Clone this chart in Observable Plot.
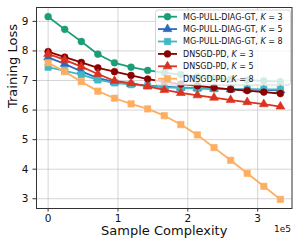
<!DOCTYPE html>
<html>
<head>
<meta charset="utf-8">
<script src="https://cdn.jsdelivr.net/npm/d3@7"></script>
<script src="https://cdn.jsdelivr.net/npm/@observablehq/plot@0.6"></script>
<style>
  html, body { margin: 0; padding: 0; background: #fff; }
  #wrap { position: relative; width: 299px; height: 249px; font-family: "DejaVu Sans", sans-serif; }
  #legend { position: absolute; left: 0; top: 0; }
</style>
</head>
<body>
<div id="wrap"></div>
<script>
// ---- data ----
const sampleComplexity = [0, 23750, 47500, 71250, 95000, 118750, 142500, 166250, 190000, 213750, 237500, 261250, 285000, 308750, 332500];
const mgK3  = [9.16, 8.73, 8.32, 7.89, 7.60, 7.45, 7.34, 7.27, 7.20, 7.13, 7.08, 7.04, 7.01, 6.99, 6.96];
const mgK5  = [7.78, 7.56, 7.31, 7.08, 6.95, 6.88, 6.83, 6.79, 6.76, 6.74, 6.72, 6.70, 6.69, 6.68, 6.67];
const mgK8  = [7.45, 7.33, 7.20, 7.02, 6.92, 6.86, 6.82, 6.77, 6.75, 6.73, 6.72, 6.71, 6.71, 6.70, 6.70];
const dnK3  = [7.98, 7.79, 7.61, 7.43, 7.30, 7.17, 7.05, 6.96, 6.88, 6.82, 6.76, 6.70, 6.66, 6.61, 6.56];
const dnK5  = [7.90, 7.70, 7.47, 7.22, 6.99, 6.91, 6.80, 6.68, 6.58, 6.50, 6.42, 6.34, 6.27, 6.20, 6.12];
const dnK8  = [7.60, 7.30, 6.96, 6.64, 6.40, 6.21, 6.04, 5.81, 5.51, 5.16, 4.73, 4.30, 3.86, 3.42, 2.98];
const seriesNames = ["MG-PULL-DIAG-GT", "MG-PULL-DIAG-GT", "MG-PULL-DIAG-GT", "DNSGD-PD", "DNSGD-PD", "DNSGD-PD"];
const seriesK = [3, 5, 8, 3, 5, 8];
const seriesValues = [mgK3, mgK5, mgK8, dnK3, dnK5, dnK8];
const seriesColors = ["#1b9e77", "#2b6cb8", "#41b6c4", "#8b0000", "#dc3220", "#fdae61"];
const seriesSymbols = ["circle", "triangle", "square", "circle", "triangle", "square"];
const xTicks = [0, 100000, 200000, 300000];
const yTicks = [3, 4, 5, 6, 7, 8, 9];

// ---- build ----
const symR = {circle: 3.4, triangle: 3.3, square: 3.6};
const marks = [
  Plot.gridX(xTicks, {stroke: "#b0b0b0", strokeOpacity: 0.6, strokeWidth: 0.9}),
  Plot.gridY(yTicks, {stroke: "#b0b0b0", strokeOpacity: 0.6, strokeWidth: 0.9}),
];
seriesValues.forEach((vals, i) => {
  const data = vals.map((v, j) => ({x: sampleComplexity[j], y: v}));
  marks.push(Plot.line(data, {x: "x", y: "y", stroke: seriesColors[i], strokeWidth: 1.8}));
  marks.push(Plot.dot(data, {x: "x", y: "y", symbol: seriesSymbols[i], r: symR[seriesSymbols[i]], fill: seriesColors[i], stroke: seriesColors[i], strokeWidth: 0.6}));
});
marks.push(
  Plot.axisX(xTicks, {tickSize: 3.5, tickPadding: 2.5, fontSize: 10.5, tickFormat: d => d / 1e5, label: null, stroke: "#333"}),
  Plot.axisY(yTicks, {tickSize: 3.5, tickPadding: 4.5, fontSize: 10.5, label: null, stroke: "#333"}),
  Plot.frame({stroke: "#333", strokeWidth: 1}),
  Plot.text(["Sample Complexity"], {text: d => d, frameAnchor: "bottom", dy: 26, fontSize: 13, fill: "#111"}),
  Plot.text(["Training Loss"], {text: d => d, frameAnchor: "left", rotate: -90, dx: -24, fontSize: 13, fill: "#111"}),
  Plot.text(["1e5"], {text: d => d, frameAnchor: "bottom-right", textAnchor: "end", dx: -1, dy: 23, fontSize: 9, fill: "#111"})
);

const chart = Plot.plot({
  width: 299,
  height: 249,
  marginLeft: 36,
  marginRight: 7.5,
  marginTop: 7,
  marginBottom: 41,
  style: {fontFamily: "DejaVu Sans, sans-serif", color: "#111", background: "#fff"},
  x: {type: "linear", domain: [-16625, 349125]},
  y: {type: "linear", domain: [2.67, 9.47]},
  marks
});
const wrap = document.getElementById("wrap");
wrap.appendChild(chart);

// ---- legend (overlay inside the axes, upper right) ----
const lg = d3.select(wrap).append("svg").attr("id", "legend")
  .attr("width", 299).attr("height", 249).style("pointer-events", "none");
const box = {x: 155.5, y: 10, w: 135, h: 75};
lg.append("rect").attr("x", box.x).attr("y", box.y).attr("width", box.w).attr("height", box.h)
  .attr("rx", 2.5).attr("fill", "#fff").attr("fill-opacity", 0.8).attr("stroke", "#cccccc").attr("stroke-width", 0.8);
const rowH = 12.4;
seriesValues.forEach((_, i) => {
  const cy = box.y + 6.7 + i * rowH;
  const g = lg.append("g").attr("transform", `translate(0,${cy})`);
  g.append("line").attr("x1", 158).attr("x2", 177).attr("y1", 0).attr("y2", 0)
    .attr("stroke", seriesColors[i]).attr("stroke-width", 1.8);
  const sym = {circle: d3.symbolCircle, triangle: d3.symbolTriangle, square: d3.symbolSquare}[seriesSymbols[i]];
  const r = symR[seriesSymbols[i]];
  g.append("path").attr("transform", "translate(167.5,0)")
    .attr("d", d3.symbol(sym, Math.PI * r * r)())
    .attr("fill", seriesColors[i]).attr("stroke", seriesColors[i]).attr("stroke-width", 0.6);
  const t = g.append("text").attr("x", 183).attr("y", 0).attr("dy", "0.35em")
    .attr("font-size", 8).attr("font-family", "DejaVu Sans, sans-serif").attr("fill", "#111");
  t.append("tspan").text(seriesNames[i] + ", ");
  t.append("tspan").attr("font-style", "italic").text("K");
  t.append("tspan").text(" = " + seriesK[i]);
});
</script>
</body>
</html>
